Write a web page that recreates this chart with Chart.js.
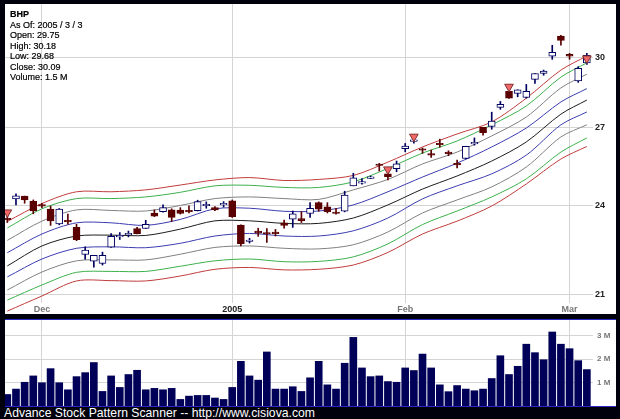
<!DOCTYPE html>
<html>
<head>
<meta charset="utf-8">
<title>BHP</title>
<script src="https://cdn.jsdelivr.net/npm/chart.js@4"></script>
<style>
html, body { margin: 0; padding: 0; width: 620px; height: 419px; background: #00000c; overflow: hidden; font-family: "Liberation Sans", Arial, sans-serif; }
#pricePanel { position: absolute; left: 5px; top: 4px; width: 611px; height: 310px; background: #fff; }
#volumePanel { position: absolute; left: 5px; top: 319px; width: 611px; height: 88px; background: #fff; border-top: 1px solid #2a2ac0; border-bottom: 1px solid #2a2ac0; box-sizing: border-box; }
canvas { display: block; }
#info { position: absolute; left: 10px; top: 9px; font-size: 9px; line-height: 10.5px; color: #000; -webkit-text-stroke: 0.2px #000; }
#info b { font-weight: bold; }
#footer { position: absolute; left: 4px; top: 406px; font-size: 12.2px; line-height: 14px; color: #fff; white-space: nowrap; }
</style>
</head>
<body>
<div id="pricePanel"><canvas id="chartPrice" width="611" height="310"></canvas></div>
<div id="volumePanel"><canvas id="chartVolume" width="611" height="86"></canvas></div>
<div id="info"><b>BHP</b><br>As Of: 2005 / 3 / 3<br>Open: 29.75<br>High: 30.18<br>Low: 29.68<br>Close: 30.09<br>Volume: 1.5 M</div>
<div id="footer">Advance Stock Pattern Scanner -- http://www.cisiova.com</div>
<script>
const opens = [23.52,24.24,24.34,24.15,24.03,23.87,23.34,23.47,23.22,22.29,22.07,21.99,22.54,22.89,22.96,23.18,23.18,23.73,23.78,23.84,23.83,23.79,23.81,23.99,23.92,24.02,24.17,23.30,22.73,23.09,23.03,23.03,23.38,23.51,23.53,23.71,24.10,23.95,23.73,23.79,24.72,24.82,25.00,25.52,25.17,25.37,26.14,26.43,26.13,25.95,26.34,25.99,25.57,25.76,26.33,27.00,27.03,27.82,28.50,28.41,28.24,29.02,29.28,30.05,30.98,30.14,28.95,29.75];
const closes = [23.49,24.35,24.20,23.80,23.97,23.45,23.87,23.41,22.79,22.44,22.26,22.26,22.91,22.92,22.98,23.00,23.33,23.62,23.92,23.57,23.71,23.77,24.14,24.02,23.84,24.04,23.60,22.66,22.76,23.02,22.99,23.00,23.29,23.70,23.46,23.90,23.87,23.78,23.71,24.38,25.02,24.85,25.02,25.49,25.06,25.55,26.25,26.46,26.08,25.89,26.30,25.95,25.51,26.24,26.39,26.78,27.25,27.95,28.21,28.57,28.50,29.28,29.38,30.23,30.78,30.05,29.51,30.09];
const highs = [23.62,24.42,24.34,24.20,24.08,23.98,23.89,23.69,23.33,22.55,22.26,22.37,23.00,23.04,23.09,23.22,23.47,23.84,24.02,23.88,23.92,23.99,24.19,24.13,23.96,24.14,24.20,23.31,22.84,23.19,23.18,23.15,23.48,23.80,23.78,24.10,24.13,24.10,23.90,24.52,25.19,24.99,25.09,25.57,25.30,25.66,26.35,26.62,26.17,26.09,26.52,26.06,25.70,26.24,26.57,27.00,27.62,28.07,28.50,28.57,28.80,29.28,29.43,30.55,31.01,30.18,29.58,30.18];
const lows = [23.39,24.02,24.08,23.70,23.92,23.29,23.31,23.33,22.76,22.13,21.87,21.94,22.53,22.80,22.89,22.99,23.18,23.60,23.76,23.43,23.69,23.73,23.80,23.90,23.81,23.94,23.57,22.58,22.68,22.91,22.70,22.92,23.19,23.22,23.39,23.57,23.79,23.73,23.69,23.77,24.72,24.78,24.99,25.28,24.94,25.25,26.02,26.36,25.96,25.80,26.20,25.87,25.40,25.74,26.28,26.68,26.92,27.74,28.20,28.27,28.21,28.84,29.20,29.91,30.55,29.91,28.89,29.68];
const volumes = [0.49,0.72,1.01,1.28,0.99,1.59,0.99,0.69,1.25,1.42,1.85,0.62,1.28,0.79,1.34,1.52,0.69,0.75,0.69,0.75,0.28,0.42,0.45,0.45,0.34,0.28,0.79,1.90,1.28,1.10,2.30,0.72,0.72,0.82,0.62,1.20,1.90,0.90,0.72,1.82,2.92,1.62,1.25,1.28,1.04,1.01,1.62,1.51,2.21,1.62,0.90,0.61,0.87,0.72,0.65,0.72,1.17,2.14,1.34,1.69,2.63,2.27,1.97,3.15,2.63,2.44,1.93,1.55];

// band values read at these bar positions
const bandBars = [0,4,8,12,16,20,24,28,32,36,40,44,48,52,56,60,64,67];
const bandRedUp = [23.43,24.07,24.50,24.50,24.57,24.75,24.94,25.03,24.92,24.96,25.11,25.62,26.21,26.73,27.22,28.21,29.43,30.06];
const bandGreenUp = [23.20,23.88,24.25,24.25,24.31,24.48,24.72,24.74,24.66,24.66,24.87,25.38,25.97,26.45,27.10,27.88,29.12,29.75];
const bandGrayUp = [22.77,23.44,23.84,23.82,23.80,24.00,24.25,24.31,24.25,24.22,24.57,24.96,25.55,26.01,26.65,27.42,28.65,29.25];
const bandBlueUp = [22.35,22.99,23.38,23.38,23.29,23.50,23.88,23.90,23.79,23.80,24.02,24.50,25.05,25.58,26.21,26.97,28.05,28.62];
const bandMiddle = [21.91,22.58,22.92,22.95,22.94,23.16,23.45,23.45,23.36,23.36,23.55,24.02,24.60,25.09,25.66,26.41,27.54,28.13];
const bandBlueLow = [21.55,22.14,22.50,22.55,22.52,22.67,22.92,23.01,22.92,22.92,23.10,23.55,24.24,24.72,25.17,25.89,27.10,27.63];
const bandGrayLow = [21.13,21.71,22.08,22.11,22.11,22.30,22.53,22.58,22.50,22.48,22.62,23.06,23.73,24.20,24.68,25.43,26.61,27.10];
const bandGreenLow = [20.81,21.29,21.70,21.73,21.73,21.90,22.08,22.14,22.05,22.06,22.21,22.65,23.32,23.80,24.31,24.98,26.01,26.57];
const bandRedLow = [20.47,20.94,21.42,21.43,21.42,21.58,21.80,21.86,21.78,21.80,21.94,22.36,22.99,23.44,23.98,24.79,25.74,26.23];

const signalBars = [0,44,47,58,67];
const signalPrices = [23.75,25.34,26.62,28.70,29.95];

const monthBars = [4,26,46,65];
const monthLabels = ['Dec','2005','Feb','Mar'];
const priceTicks = [21,24,27,30];
const volumeTicks = [1,2,3];

const corUp = '#000060';
const corDown = '#5a0000';
const corGrid = '#d4d4d4';
const xMin = -0.27;
const xMax = 67.71;

// chart area has to fill the panel, so the padding the labels ask for is dropped
const semPadding = (scale) => {
    scale.paddingLeft = 0;
    scale.paddingRight = 0;
    scale.paddingTop = 0;
    scale.paddingBottom = 0;
}

const xAxis = (showLabels) => ({
    type: 'linear',
    min: xMin,
    max: xMax,
    offset: false,
    afterBuildTicks: (scale) => { scale.ticks = monthBars.map(v => ({ value: v })); },
    afterFit: (scale) => {
        scale.height = showLabels ? 11 : 0;
        semPadding(scale);
    },
    grid: { color: corGrid, drawTicks: false, offset: false },
    border: { display: false },
    ticks: {
        display: showLabels,
        padding: 1,
        autoSkip: false,
        maxRotation: 0,
        color: (ctx) => ctx.index == 1 ? '#222' : '#777',
        font: { family: 'Liberation Sans', size: 9, weight: 'bold' },
        callback: (v) => monthLabels[monthBars.indexOf(v)]
    }
});

const bandSet = (values, color) => ({
    type: 'line',
    data: bandBars.map((b, i) => ({ x: b, y: values[i] })),
    borderColor: color,
    borderWidth: 1,
    pointRadius: 0,
    tension: 0.3,
    clip: false,
    order: 5
});

const wicks = {
    type: 'bar',
    data: highs.map((h, i) => ({ x: i, y: [lows[i], h] })),
    backgroundColor: closes.map((c, i) => c >= opens[i] ? corUp : corDown),
    barThickness: 1,
    grouped: false,
    order: 3
};

const bodies = {
    type: 'bar',
    data: opens.map((o, i) => ({ x: i, y: [o, closes[i]] })),
    backgroundColor: closes.map((c, i) => c >= opens[i] ? '#fff' : corDown),
    borderColor: closes.map((c, i) => c >= opens[i] ? corUp : corDown),
    borderWidth: 1,
    borderSkipped: false,
    barThickness: 7,
    minBarLength: 1.5,
    grouped: false,
    order: 2
};

const signals = {
    type: 'scatter',
    data: signalBars.map((b, i) => ({ x: b, y: signalPrices[i] })),
    pointStyle: 'triangle',
    rotation: 180,
    radius: 5,
    backgroundColor: '#f06868',
    borderColor: '#803030',
    borderWidth: 1,
    clip: false,
    order: 1
};

new Chart(document.getElementById('chartPrice').getContext('2d'), {
    type: 'bar',
    data: {
        datasets: [
            bandSet(bandRedUp, '#c03c3c'),
            bandSet(bandGreenUp, '#3cb04c'),
            bandSet(bandGrayUp, '#808080'),
            bandSet(bandBlueUp, '#3c3cb0'),
            bandSet(bandMiddle, '#1c1c1c'),
            bandSet(bandBlueLow, '#3c3cb0'),
            bandSet(bandGrayLow, '#808080'),
            bandSet(bandGreenLow, '#3cb04c'),
            bandSet(bandRedLow, '#c03c3c'),
            wicks,
            bodies,
            signals
        ]
    },
    options: {
        responsive: false,
        animation: false,
        layout: { padding: 0, autoPadding: false },
        plugins: { legend: { display: false }, tooltip: { enabled: false } },
        scales: {
            x: xAxis(true),
            y: {
                type: 'logarithmic',
                position: 'right',
                min: 20.72,
                max: 32.51,
                afterBuildTicks: (scale) => { scale.ticks = priceTicks.map(v => ({ value: v })); },
                afterFit: (scale) => {
                    scale.width = 23;
                    semPadding(scale);
                },
                grid: { color: corGrid, drawTicks: false },
                border: { display: false },
                ticks: {
                    padding: 2,
                    color: '#222',
                    font: { family: 'Liberation Sans', size: 9, weight: 'bold' },
                    callback: (v) => String(v)
                }
            }
        }
    }
});

new Chart(document.getElementById('chartVolume').getContext('2d'), {
    type: 'bar',
    data: {
        datasets: [{
            data: volumes.map((v, i) => ({ x: i, y: v })),
            backgroundColor: '#000058',
            barThickness: 7
        }]
    },
    options: {
        responsive: false,
        animation: false,
        layout: { padding: 0, autoPadding: false },
        plugins: { legend: { display: false }, tooltip: { enabled: false } },
        scales: {
            x: xAxis(false),
            y: {
                position: 'right',
                min: 0,
                max: 3.66,
                afterBuildTicks: (scale) => { scale.ticks = volumeTicks.map(v => ({ value: v })); },
                afterFit: (scale) => {
                    scale.width = 23;
                    semPadding(scale);
                },
                grid: { color: corGrid, drawTicks: false },
                border: { display: false },
                ticks: {
                    padding: 4,
                    color: '#777',
                    font: { family: 'Liberation Sans', size: 8, weight: 'bold' },
                    callback: (v) => v + ' M'
                }
            }
        }
    }
});
</script>
</body>
</html>
